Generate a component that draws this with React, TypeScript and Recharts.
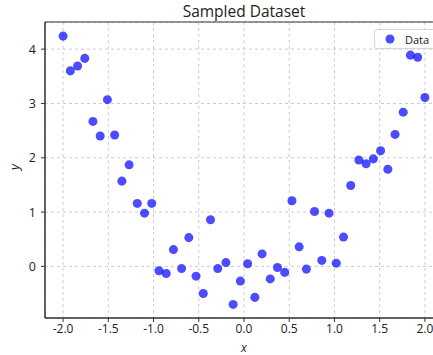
import React from 'react';
import {
  ScatterChart,
  Scatter,
  XAxis,
  YAxis,
  CartesianGrid,
  ReferenceArea,
} from 'recharts';

// x sampled on an even grid from -2 to 2 (50 points)
const xValues = [
  -2.0, -1.92, -1.84, -1.76, -1.67, -1.59, -1.51, -1.43, -1.35, -1.27,
  -1.18, -1.1, -1.02, -0.94, -0.86, -0.78, -0.69, -0.61, -0.53, -0.45,
  -0.37, -0.29, -0.2, -0.12, -0.04, 0.04, 0.12, 0.2, 0.29, 0.37,
  0.45, 0.53, 0.61, 0.69, 0.78, 0.86, 0.94, 1.02, 1.1, 1.18,
  1.27, 1.35, 1.43, 1.51, 1.59, 1.67, 1.76, 1.84, 1.92, 2.0,
];

const yValues = [
  4.24, 3.6, 3.69, 3.83, 2.67, 2.4, 3.07, 2.42, 1.57, 1.87,
  1.16, 0.98, 1.16, -0.08, -0.13, 0.31, -0.04, 0.53, -0.18, -0.5,
  0.86, -0.04, 0.07, -0.7, -0.27, 0.05, -0.57, 0.23, -0.23, -0.02,
  -0.11, 1.21, 0.36, -0.05, 1.01, 0.11, 0.98, 0.06, 0.54, 1.49,
  1.96, 1.89, 1.98, 2.13, 1.79, 2.43, 2.84, 3.89, 3.85, 3.11,
];

const xTicks = [-2, -1.5, -1, -0.5, 0, 0.5, 1, 1.5, 2];
const yTicks = [0, 1, 2, 3, 4];

const data = xValues.map((x, i) => ({ x, y: yValues[i] }));

const FONT = '"Open Sans", "DejaVu Sans", sans-serif';

function LegendBox() {
  return (
    <div
      style={{
        position: 'absolute',
        left: 374,
        top: 29,
        display: 'flex',
        alignItems: 'center',
        border: '1px solid #d6d6d6',
        borderRadius: 3,
        background: 'rgba(255,255,255,0.8)',
        height: 18,
        padding: '0 8px 0 10px',
        fontFamily: FONT,
        fontSize: 11,
        color: '#222',
        whiteSpace: 'nowrap',
      }}
    >
      <svg width={10} height={10} style={{ marginRight: 10 }}>
        <circle cx={5} cy={5} r={4.5} fill="blue" fillOpacity={0.7} />
      </svg>
      <span>Data</span>
    </div>
  );
}

export default function App() {
  return (
    <div
      style={{
        position: 'absolute',
        left: 0,
        top: 0,
        width: 433,
        height: 355,
        overflow: 'hidden',
        background: '#fff',
        fontFamily: FONT,
      }}
    >
      <div
        style={{
          position: 'absolute',
          left: 0,
          width: 488,
          top: 0,
          textAlign: 'center',
          fontSize: 15.5,
          color: '#222',
        }}
      >
        Sampled Dataset
      </div>
      <ScatterChart
        width={460}
        height={355}
        margin={{ top: 22, right: 17, bottom: 0, left: 0 }}
      >
        <CartesianGrid stroke="#cccccc" strokeDasharray="3 3" />
        <XAxis
          type="number"
          dataKey="x"
          domain={[-2.2, 2.2]}
          ticks={xTicks}
          allowDataOverflow
          height={37}
          tickSize={4}
          tickMargin={2}
          tickFormatter={(v: number) => v.toFixed(1)}
          stroke="#333"
          tick={{ fill: '#222', fontSize: 12, fontFamily: FONT }}
          label={{
            value: 'x',
            position: 'insideBottom',
            offset: 3,
            fill: '#222',
            fontSize: 12,
            fontStyle: 'italic',
            fontFamily: FONT,
          }}
        />
        <YAxis
          type="number"
          dataKey="y"
          domain={[-0.95, 4.5]}
          ticks={yTicks}
          allowDataOverflow
          width={45}
          tickSize={4}
          tickMargin={5}
          stroke="#333"
          tick={{ fill: '#222', fontSize: 12.5, fontFamily: FONT }}
          label={{
            value: 'y',
            angle: -90,
            position: 'insideLeft',
            offset: 14,
            fill: '#222',
            fontSize: 13,
            fontStyle: 'italic',
            fontFamily: FONT,
          }}
        />
        <ReferenceArea
          x1={-2.2}
          x2={2.2}
          y1={-0.95}
          y2={4.5}
          fill="none"
          stroke="#333"
          strokeWidth={1}
          fillOpacity={0}
        />
        <Scatter
          name="Data"
          data={data}
          fill="blue"
          fillOpacity={0.7}
          isAnimationActive={false}
        />
      </ScatterChart>
      <LegendBox />
    </div>
  );
}
